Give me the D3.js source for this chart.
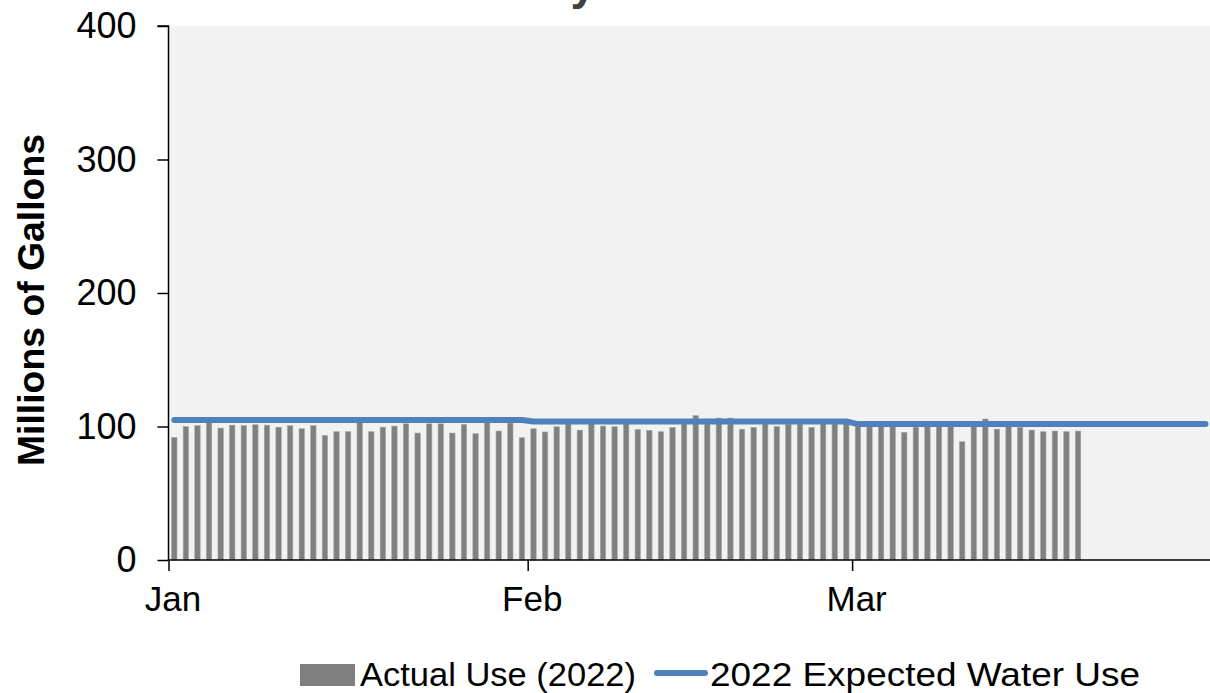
<!DOCTYPE html>
<html>
<head>
<meta charset="utf-8">
<script src="https://cdn.jsdelivr.net/npm/d3@7/dist/d3.min.js"></script>
<style>
  html, body { margin: 0; padding: 0; background: #ffffff; }
  svg { display: block; font-family: Arial, "Liberation Sans", sans-serif; }
</style>
</head>
<body>
<svg id="chart" width="1210" height="693"></svg>
<script>
// ---- Data ----
const startDate = "2022-01-01";
const endDate = "2022-04-01";
const monthTicks = ["2022-01-01", "2022-02-01", "2022-03-01"];
const monthLabels = ["Jan", "Feb", "Mar"];
const yTicks = [0, 100, 200, 300, 400];

// Actual daily use, Jan 1 .. Mar 20 2022 (millions of gallons)
const actualUse = [
  91.8, 100.0, 100.6, 103.5, 98.8, 101.0, 100.6, 101.3, 101.0, 99.5,
  100.6, 98.3, 100.6, 93.3, 96.1, 96.1, 103.5, 96.1, 99.5, 100.3,
  102.0, 95.1, 102.0, 102.0, 95.1, 101.5, 94.6, 103.5, 96.6, 102.6,
  91.6,
  98.3, 95.9, 99.8, 102.6, 97.3, 102.6, 100.3, 99.8, 102.6, 97.8,
  97.1, 96.1, 99.3, 103.0, 108.1, 105.5, 106.3, 106.3, 98.0, 99.3,
  102.0, 100.0, 101.8, 101.8, 99.3, 102.0, 102.0, 102.3,
  100.6, 100.0, 100.0, 100.0, 95.6, 99.5, 100.1, 100.0, 100.0, 88.6,
  100.0, 105.6, 98.0, 100.0, 99.3, 97.3, 96.1, 96.6, 96.1, 96.6
];

// Expected daily use, Jan 1 .. Mar 31 2022
const expectedUse = [
  104.8, 104.8, 104.8, 104.8, 104.8, 104.8, 104.8, 104.8, 104.8, 104.8,
  104.8, 104.8, 104.8, 104.8, 104.8, 104.8, 104.8, 104.8, 104.8, 104.8,
  104.8, 104.8, 104.8, 104.8, 104.8, 104.8, 104.8, 104.8, 104.8, 104.8,
  104.8,
  103.8, 103.8, 103.8, 103.8, 103.8, 103.8, 103.8, 103.8, 103.8, 103.8,
  103.8, 103.8, 103.8, 103.8, 103.8, 103.8, 103.8, 103.8, 103.8, 103.8,
  103.8, 103.8, 103.8, 103.8, 103.8, 103.8, 103.8, 103.8,
  101.8, 101.8, 101.8, 101.8, 101.8, 101.8, 101.8, 101.8, 101.8, 101.8,
  101.8, 101.8, 101.8, 101.8, 101.8, 101.8, 101.8, 101.8, 101.8, 101.8,
  101.8, 101.8, 101.8, 101.8, 101.8, 101.8, 101.8, 101.8, 101.8, 101.8,
  101.8
];

const seriesNames = ["Actual Use (2022)", "2022 Expected Water Use"];
const titleText = "Daily";
const yTitle = "Millions of Gallons";

// ---- Layout ----
const svg = d3.select("#chart");
const plot = { left: 168.5, right: 1211.3, top: 26, bottom: 560 };
const DAY = 86400000;
const t0 = new Date(startDate + "T00:00:00Z");
const dayDate = i => new Date(t0.getTime() + i * DAY);

const x = d3.scaleUtc()
  .domain([t0, new Date(endDate + "T00:00:00Z")])
  .range([plot.left, plot.right]);
const y = d3.scaleLinear().domain([0, 400]).range([plot.bottom, plot.top]);
const dayW = x(dayDate(1)) - x(dayDate(0));
const center = i => x(dayDate(i)) + dayW / 2;

// Title (clipped above the view; only the descender shows)
svg.append("text")
  .attr("x", 596).attr("y", -1)
  .attr("text-anchor", "end")
  .attr("font-size", 46).attr("font-weight", "bold")
  .attr("fill", "#404040")
  .text(titleText);

// Plot background
svg.append("rect")
  .attr("x", plot.left).attr("y", plot.top)
  .attr("width", 1210 - plot.left).attr("height", plot.bottom - plot.top)
  .attr("fill", "#f2f2f2");

// Bars
const barW = 5.4;
svg.append("g").selectAll("rect")
  .data(actualUse)
  .join("rect")
  .attr("x", (d, i) => center(i) - barW / 2)
  .attr("y", d => y(d))
  .attr("width", barW)
  .attr("height", d => y(0) - y(d))
  .attr("fill", "#808080")
  .attr("stroke", "#a6a6a6")
  .attr("stroke-width", 0.6);

// Expected line
const line = d3.line()
  .x((d, i) => center(i))
  .y(d => y(d));
svg.append("path")
  .datum(expectedUse)
  .attr("d", line)
  .attr("fill", "none")
  .attr("stroke", "#4f81bd")
  .attr("stroke-width", 6)
  .attr("stroke-linecap", "round")
  .attr("stroke-linejoin", "round");

// Y axis
const yAxis = d3.axisLeft(y).tickValues(yTicks).tickSize(11).tickPadding(21);
const gy = svg.append("g").attr("transform", `translate(${plot.left},0)`).call(yAxis);
gy.select(".domain").attr("stroke", "#000").attr("stroke-width", 1.5)
  .attr("d", `M-11,${plot.top}H0V${plot.bottom}`);
gy.selectAll(".tick line").attr("stroke", "#000").attr("stroke-width", 1.5);
gy.selectAll(".tick text").attr("font-size", 36).attr("fill", "#000")
  .attr("font-family", "Arial, 'Liberation Sans', sans-serif");

// X axis
const xAxis = d3.axisBottom(x)
  .tickValues(monthTicks.map(s => new Date(s + "T00:00:00Z")))
  .tickFormat((d, i) => monthLabels[i])
  .tickSize(11).tickPadding(15);
const gx = svg.append("g").attr("transform", `translate(0,${plot.bottom})`).call(xAxis);
gx.select(".domain").attr("stroke", "#000").attr("stroke-width", 1.5)
  .attr("d", `M${plot.left},0H1210`);
gx.selectAll(".tick line").attr("stroke", "#000").attr("stroke-width", 1.5);
gx.selectAll(".tick text").attr("font-size", 35).attr("fill", "#000")
  .attr("dx", 4)
  .attr("font-family", "Arial, 'Liberation Sans', sans-serif");

// Y title
svg.append("text")
  .attr("transform", "translate(44,300) rotate(-90)")
  .attr("text-anchor", "middle")
  .attr("font-size", 36).attr("font-weight", "bold")
  .attr("fill", "#000")
  .attr("textLength", 332).attr("lengthAdjust", "spacingAndGlyphs")
  .text(yTitle);

// Legend
const lg = svg.append("g");
lg.append("rect").attr("x", 300).attr("y", 664).attr("width", 55).attr("height", 22)
  .attr("fill", "#808080");
lg.append("text").attr("x", 360).attr("y", 686).attr("font-size", 34).attr("fill", "#000")
  .attr("textLength", 276).attr("lengthAdjust", "spacingAndGlyphs")
  .text(seriesNames[0]);
lg.append("line").attr("x1", 657).attr("x2", 705).attr("y1", 673).attr("y2", 673)
  .attr("stroke", "#4f81bd").attr("stroke-width", 6).attr("stroke-linecap", "round");
lg.append("text").attr("x", 710).attr("y", 686).attr("font-size", 34).attr("fill", "#000")
  .attr("textLength", 430).attr("lengthAdjust", "spacingAndGlyphs")
  .text(seriesNames[1]);
</script>
</body>
</html>
